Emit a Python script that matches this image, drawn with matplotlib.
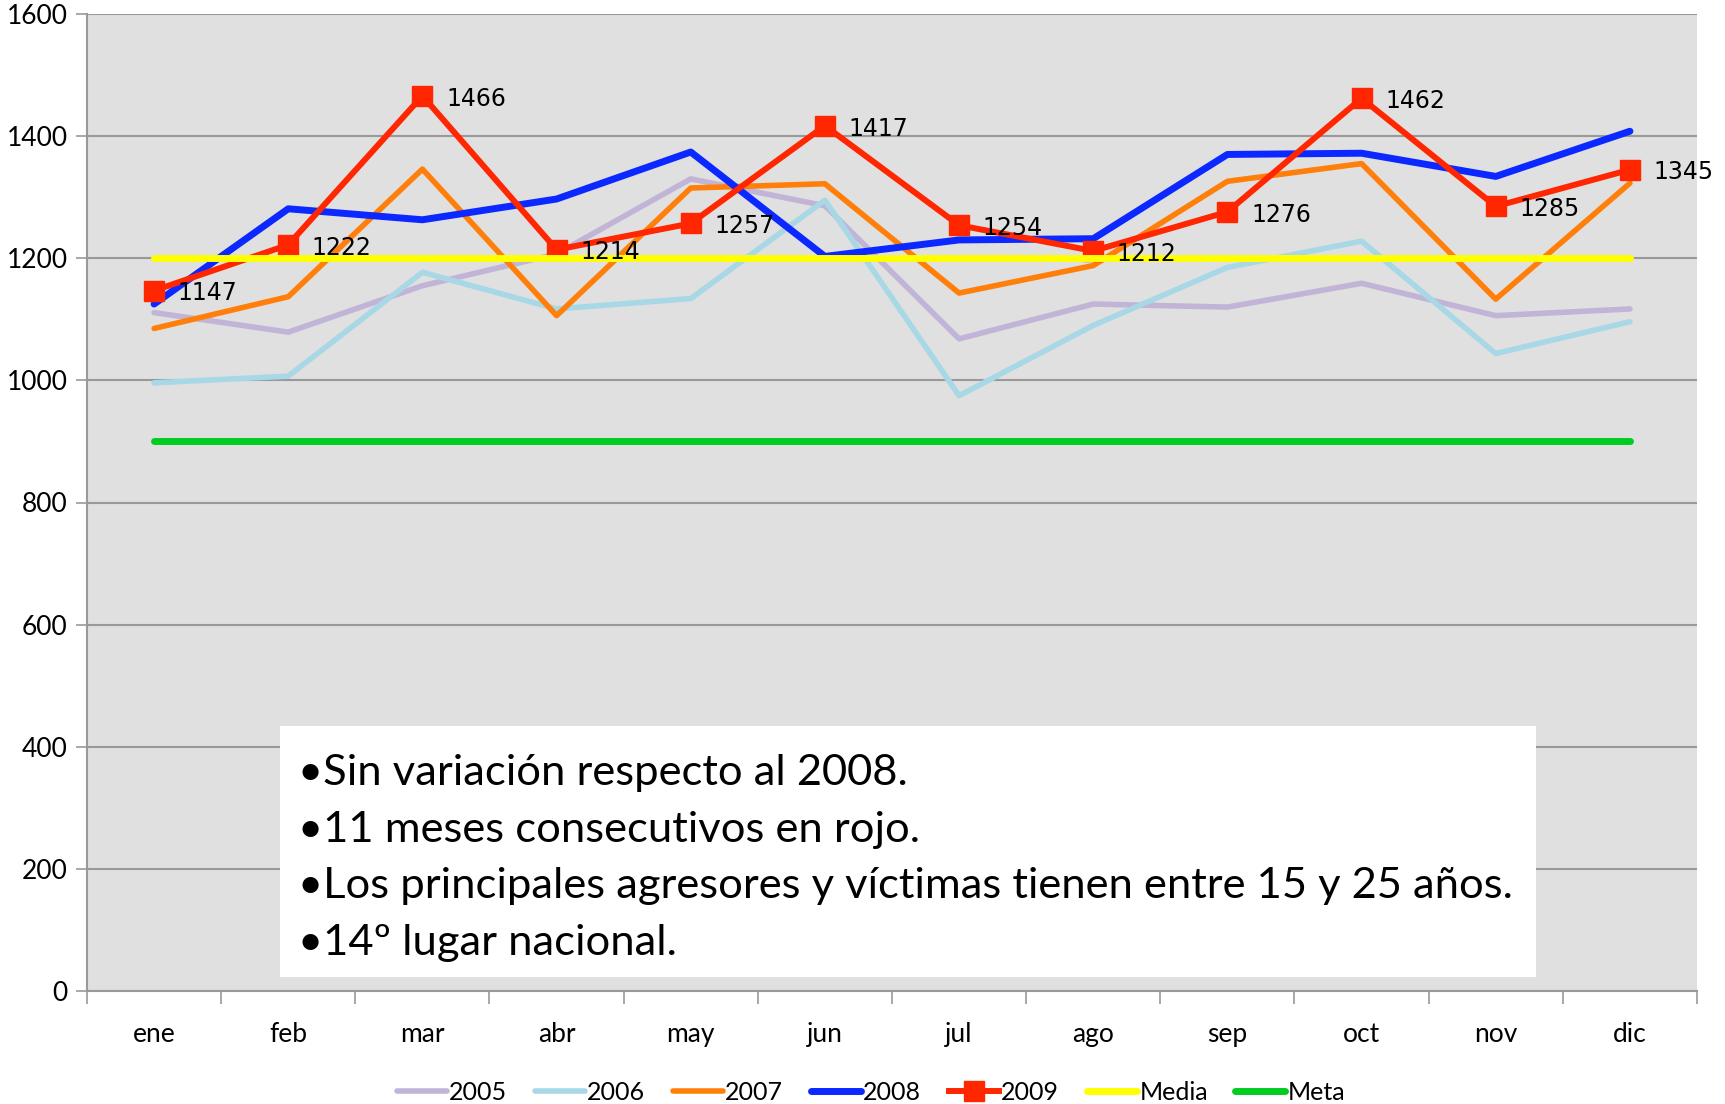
import matplotlib.pyplot as plt
import numpy as np
from matplotlib.patches import Rectangle

# Datos mensuales
meses = ["ene", "feb", "mar", "abr", "may", "jun", "jul", "ago", "sep", "oct", "nov", "dic"]
serie_2005 = [1111, 1079, 1155, 1207, 1330, 1286, 1068, 1125, 1120, 1159, 1106, 1117]
serie_2006 = [996, 1007, 1177, 1117, 1134, 1295, 975, 1090, 1185, 1228, 1044, 1096]
serie_2007 = [1085, 1137, 1346, 1106, 1315, 1322, 1143, 1188, 1326, 1355, 1133, 1323]
serie_2008 = [1125, 1281, 1263, 1297, 1374, 1203, 1230, 1232, 1370, 1372, 1334, 1408]
serie_2009 = [1147, 1222, 1466, 1214, 1257, 1417, 1254, 1212, 1276, 1462, 1285, 1345]
media = [1200] * 12
meta = [900] * 12

notas = [
    "•Sin variación respecto al 2008.",
    "•11 meses consecutivos en rojo.",
    "•Los principales agresores y víctimas tienen entre 15 y 25 años.",
    "•14º lugar nacional.",
]

plt.rcParams["font.family"] = ["Lato", "DejaVu Sans"]

fig = plt.figure(figsize=(17.25, 11.04), dpi=100)
ax = fig.add_axes([87 / 1725, 1 - 991 / 1104, 1610 / 1725, 977 / 1104])
ax.set_facecolor("#E0E0E0")

x = np.arange(len(meses))
ax.plot(x, serie_2005, color="#C2B4D6", lw=4, label="2005", solid_capstyle="round")
ax.plot(x, serie_2006, color="#A8D8E6", lw=4, label="2006", solid_capstyle="round")
ax.plot(x, serie_2007, color="#FF7F0A", lw=4, label="2007", solid_capstyle="round")
ax.plot(x, serie_2008, color="#0A28FF", lw=5, label="2008", solid_capstyle="round")
ax.plot(x, serie_2009, color="#FF2600", lw=4.3, marker="s", ms=15, label="2009")
ax.plot(x, media, color="#FFFF00", lw=5, label="Media", solid_capstyle="round")
ax.plot(x, meta, color="#00CC22", lw=5, label="Meta", solid_capstyle="round")

# Etiquetas de 2009
for xi, v in zip(x, serie_2009):
    ax.annotate(str(v), (xi, v), xytext=(17, -2), textcoords="offset points",
                ha="left", va="center", fontsize=17,
                family=["Liberation Sans Narrow", "DejaVu Sans"])

ax.set_xlim(-0.5, 11.5)
ax.set_ylim(0, 1600)
ax.set_yticks(np.arange(0, 1601, 200))
ax.set_xticks(x)
ax.set_xticklabels(meses)
ax.set_xticks(np.arange(-0.5, 12, 1), minor=True)
ax.tick_params(axis="x", which="major", length=0, pad=22, labelsize=19)
ax.tick_params(axis="x", which="minor", length=9, width=1.2, color="#999999", direction="out")
ax.tick_params(axis="y", length=8, width=1.2, color="#999999", labelsize=19, pad=6)

ax.grid(axis="y", color="#999999", lw=1.5)
ax.set_axisbelow(True)
for s in ["top", "right"]:
    ax.spines[s].set_visible(False)
for s in ["left", "bottom"]:
    ax.spines[s].set_color("#999999")
    ax.spines[s].set_linewidth(1.5)

# Cuadro de texto
ax.add_patch(Rectangle((0.12, 0.014), 0.78, 0.257, transform=ax.transAxes,
                       facecolor="white", edgecolor="none", zorder=5))
for i, t in enumerate(notas):
    ax.text(0.131, 0.223 - i * 0.058, t, transform=ax.transAxes, fontsize=31.3,
            ha="left", va="center", zorder=6)

ax.legend(loc="center", bbox_to_anchor=(0.487, -0.104), ncol=7, frameon=False,
          fontsize=18, handlelength=2.0, handletextpad=0.1, columnspacing=1.1,
          borderpad=0)

fig.savefig("out.png", dpi=100)
plt.close()
